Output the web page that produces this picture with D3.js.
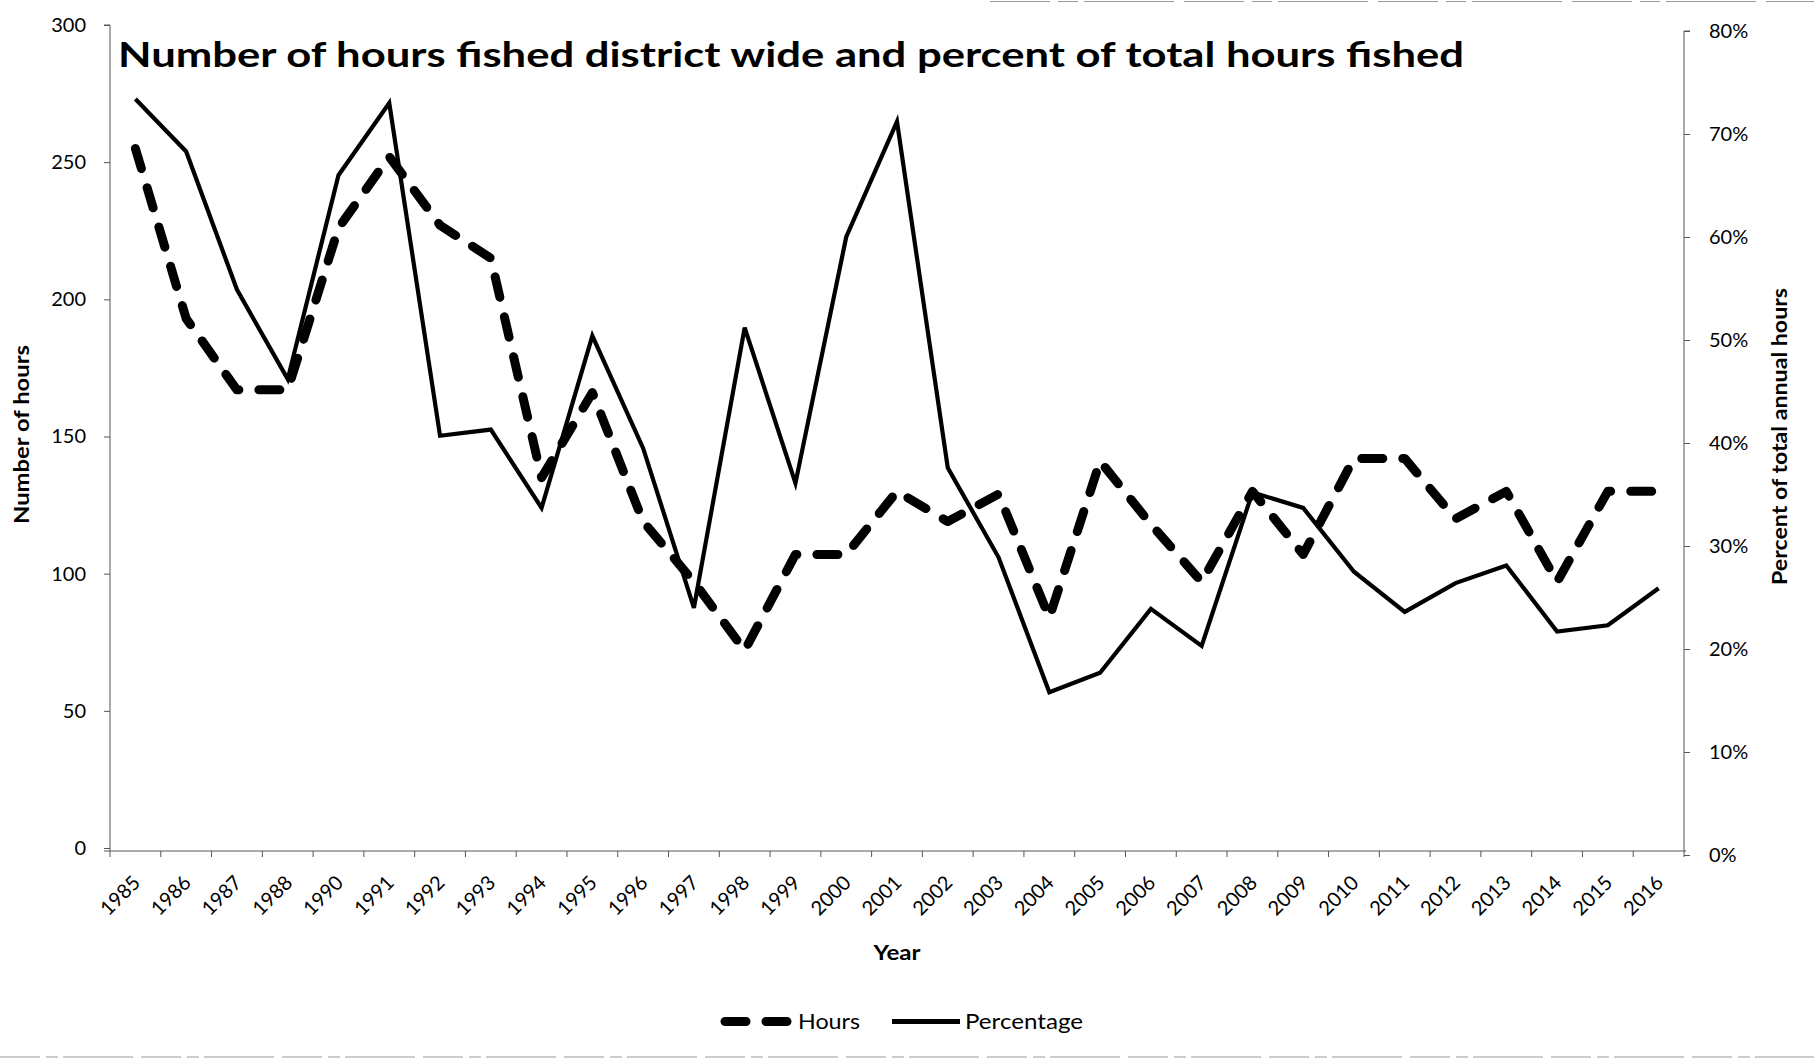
<!DOCTYPE html>
<html>
<head>
<meta charset="utf-8">
<script src="https://cdn.jsdelivr.net/npm/d3@7"></script>
<style>
  html, body { margin: 0; padding: 0; background: #fff; }
  svg { display: block; font-family: Lato, "Open Sans", sans-serif; }
</style>
</head>
<body>
<script>
// ---------- data ----------
const years = ["1985","1986","1987","1988","1990","1991","1992","1993","1994","1995","1996","1997","1998","1999","2000","2001","2002","2003","2004","2005","2006","2007","2008","2009","2010","2011","2012","2013","2014","2015","2016"];
const hours = [255,193,167,167,226,252,227,215,135,166,119,97,72,107,107,130,119,129,84,141,118,97,130,107,142,142,120,130,97,130,130];
const percentage = [0.734,0.683,0.549,0.462,0.660,0.730,0.407,0.413,0.337,0.504,0.395,0.240,0.512,0.361,0.600,0.712,0.376,0.289,0.158,0.177,0.239,0.203,0.352,0.337,0.275,0.236,0.264,0.281,0.217,0.223,0.259];
const hourTicks = [0,50,100,150,200,250,300];
const pctTicks = [0,0.1,0.2,0.3,0.4,0.5,0.6,0.7,0.8];
const seriesNames = ["Hours","Percentage"];
const titleText = "Number of hours fished district wide and percent of total hours fished";
const leftLabel = "Number of hours";
const rightLabel = "Percent of total annual hours";
const xLabel = "Year";

// ---------- layout ----------
const W = 1814, H = 1061;
const left = 110, right = 1684, axisY = 851;

const svg = d3.select("body").append("svg").attr("width", W).attr("height", H);
svg.append("rect").attr("width", W).attr("height", H).attr("fill", "#fff");

const x = d3.scaleBand().domain(years).range([left, right]).padding(0);
const cx = d => x(d) + x.bandwidth() / 2;
const yL = d3.scaleLinear().domain([0, 300]).range([848, 25]);
const yR = d3.scaleLinear().domain([0, 0.8]).range([855, 31]);

// faint scan border lines
svg.append("line").attr("x1", 0).attr("x2", W).attr("y1", 1057).attr("y2", 1057)
  .attr("stroke", "#999").attr("stroke-width", 1.2).attr("stroke-dasharray", "40,6,12,5,70,8");
svg.append("line").attr("x1", 990).attr("x2", W).attr("y1", 1.5).attr("y2", 1.5)
  .attr("stroke", "#999").attr("stroke-width", 1.2).attr("stroke-dasharray", "60,8,20,6,90,10");

// ---------- axes ----------
const axisColor = "#555";
const gL = svg.append("g").attr("transform", `translate(${left},0)`)
  .call(d3.axisLeft(yL).tickValues(hourTicks).tickSize(6).tickPadding(18).tickFormat(d3.format("d")));
const gR = svg.append("g").attr("transform", `translate(${right},0)`)
  .call(d3.axisRight(yR).tickValues(pctTicks).tickSize(6).tickPadding(19).tickFormat(d3.format(".0%")));
[gL, gR].forEach(g => {
  g.select(".domain").attr("stroke", axisColor).attr("stroke-width", 1);
  g.selectAll(".tick line").attr("stroke", axisColor);
  g.selectAll(".tick text").attr("font-size", 20).attr("fill", "#000")
    .attr("font-family", "Lato, sans-serif");
});
gL.select(".domain").attr("d", `M-6,${yL(300)}H0V${axisY}`);
gR.select(".domain").attr("d", `M6,${yR(0.8)}H0V${axisY}`);

// x axis
const gX = svg.append("g");
gX.append("line").attr("x1", left - 6).attr("x2", right + 2).attr("y1", axisY).attr("y2", axisY)
  .attr("stroke", axisColor).attr("stroke-width", 1);
const boundaries = d3.range(years.length + 1).map(i => left + i * x.bandwidth());
gX.selectAll("line.tk").data(boundaries).join("line").attr("class", "tk")
  .attr("x1", d => d).attr("x2", d => d).attr("y1", axisY).attr("y2", axisY + 6)
  .attr("stroke", axisColor);
gX.selectAll("text").data(years).join("text")
  .attr("transform", d => `translate(${cx(d) + 1},${axisY + 28}) rotate(-45)`)
  .attr("text-anchor", "end").attr("dy", "0.35em")
  .attr("font-size", 20).attr("fill", "#000")
  .text(d => d);

// ---------- lines ----------
const lineH = d3.line().x((d, i) => cx(years[i])).y(d => yL(d));
const lineP = d3.line().x((d, i) => cx(years[i])).y(d => yR(d));

svg.append("path").datum(percentage).attr("d", lineP)
  .attr("fill", "none").attr("stroke", "#000").attr("stroke-width", 4.2)
  .attr("stroke-linejoin", "miter");
svg.append("path").datum(hours).attr("d", lineH)
  .attr("fill", "none").attr("stroke", "#000").attr("stroke-width", 9)
  .attr("stroke-linecap", "round").attr("stroke-linejoin", "round")
  .attr("stroke-dasharray", "21,20");

// ---------- texts ----------
function fit(sel, width) {
  sel.attr("textLength", width).attr("lengthAdjust", "spacingAndGlyphs");
}
const title = svg.append("text").attr("x", 118).attr("y", 67)
  .attr("font-size", 34).attr("font-weight", "bold").attr("fill", "#000").text(titleText);
fit(title, 1346);

const lt = svg.append("text").attr("transform", `translate(29,434.5) rotate(-90)`)
  .attr("text-anchor", "middle").attr("font-size", 20).attr("font-weight", "bold").text(leftLabel);
fit(lt, 179);
const rt = svg.append("text").attr("transform", `translate(1787,436.5) rotate(-90)`)
  .attr("text-anchor", "middle").attr("font-size", 20).attr("font-weight", "bold").text(rightLabel);
fit(rt, 297);
const xt = svg.append("text").attr("x", 897).attr("y", 960).attr("text-anchor", "middle")
  .attr("font-size", 21).attr("font-weight", "bold").text(xLabel);
fit(xt, 47);

// ---------- legend ----------
const lg = svg.append("g");
lg.append("line").attr("x1", 725).attr("x2", 789).attr("y1", 1021.5).attr("y2", 1021.5)
  .attr("stroke", "#000").attr("stroke-width", 9).attr("stroke-linecap", "round")
  .attr("stroke-dasharray", "21,20");
const t1 = lg.append("text").attr("x", 798).attr("y", 1028.5).attr("font-size", 21).text(seriesNames[0]);
fit(t1, 62);
lg.append("line").attr("x1", 892).attr("x2", 960).attr("y1", 1021.5).attr("y2", 1021.5)
  .attr("stroke", "#000").attr("stroke-width", 5);
const t2 = lg.append("text").attr("x", 965).attr("y", 1028.5).attr("font-size", 21).text(seriesNames[1]);
fit(t2, 118);
</script>
</body>
</html>
